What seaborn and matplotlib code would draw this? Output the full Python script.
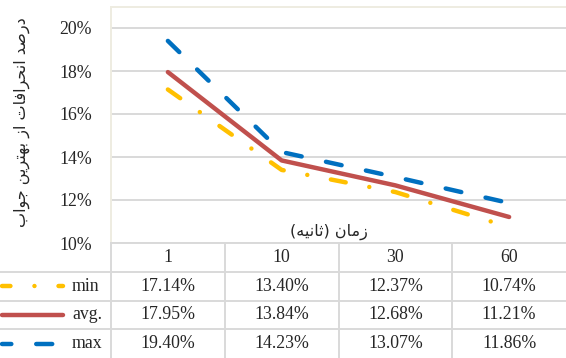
import numpy as np
import pandas as pd
import matplotlib
matplotlib.use('Agg')
import matplotlib.pyplot as plt
import seaborn as sns

# values (percent deviation from best answer)
times = ['1', '10', '30', '60']
series_names = ['min', 'avg.', 'max']
min_vals = [17.14, 13.40, 12.37, 10.74]
avg_vals = [17.95, 13.84, 12.68, 11.21]
max_vals = [19.40, 14.23, 13.07, 11.86]
y_ticks = [10, 12, 14, 16, 18, 20]

# persian titles, written in presentation forms and visual order
# (matplotlib does no arabic shaping / bidi on its own)
y_title = ('\uFE8F\uFE8D\uFEEE\uFE9F \uFEE6\uFEF3\uFEAE\uFE98\uFEEC\uFE91 '
           '\uFEAF\uFE8D \uFE95\uFE8E\uFED3\uFE8D\uFEAE\uFEA4\uFEE7\uFE8D '
           '\uFEAA\uFEBB\uFEAD\uFEA9')
x_title = '(\uFEEA\uFEF4\uFEE7\uFE8E\uFE9B) \uFEE5\uFE8E\uFEE3\uFEAF'

colors = {'min': '#FFC000', 'avg.': '#C0504D', 'max': '#0070C0'}
dash_map = {'min': (3.4, 5.4, 0.01, 5.4), 'avg.': '', 'max': (3.6, 5.6)}

sns.set_style('white')
plt.rcParams['font.family'] = ['Liberation Serif', 'DejaVu Sans']
plt.rcParams['font.size'] = 12.8

W, H = 566, 358
GRID = '#D9D9D9'
BORDER = '#EEECE1'
LW = 3.2

df = pd.concat([
    pd.DataFrame({'pos': np.arange(len(times)), 'value': vals, 'series': name})
    for name, vals in zip(series_names, [min_vals, avg_vals, max_vals])
], ignore_index=True)

fig = plt.figure(figsize=(W / 100, H / 100), dpi=100)
ax = fig.add_axes([111 / W, (H - 243) / H, (W - 111) / W, (243 - 7) / H])

sns.lineplot(data=df, x='pos', y='value', hue='series', style='series',
             palette=colors, dashes=dash_map, hue_order=series_names,
             style_order=series_names, linewidth=LW, legend=False, sort=False,
             ax=ax, solid_capstyle='round', dash_capstyle='round',
             solid_joinstyle='round', dash_joinstyle='round')

ax.set_xlim(-0.5, len(times) - 0.5)
ax.set_ylim(10, 10 + 236 / 21.5)
ax.set_yticks(y_ticks)
ax.set_yticklabels([f'{t}%' for t in y_ticks])
ax.set_xticks([])
ax.tick_params(axis='y', length=0, pad=13.5, labelsize=12.8)
ax.grid(axis='y', color=GRID, lw=1.4)
ax.set_axisbelow(True)
ax.set_xlabel('')
ax.set_ylabel(y_title, family=['DejaVu Sans'], fontsize=11.5)
ax.yaxis.set_label_coords(-0.178, 0.513)
for side in ['top', 'left']:
    ax.spines[side].set_color(BORDER)
    ax.spines[side].set_linewidth(1.4)
ax.spines['right'].set_visible(False)
ax.spines['bottom'].set_color(GRID)
ax.spines['bottom'].set_linewidth(1.4)

ax.text(1.42, 10.51, x_title, family=['DejaVu Sans'], fontsize=11.5,
        ha='center', va='center')

# data table under the plot
unit = (W - 111) / len(times)
x_left = -0.5 - 111 / unit


def px2x(px):
    return -0.5 + (px - 111) / unit


tab = fig.add_axes([0, 0, 1, 115 / H])
tab.set_xlim(x_left, len(times) - 0.5)
tab.set_ylim(4, 0)
tab.axis('off')

for r in [1, 2, 3]:
    tab.plot([x_left, len(times) - 0.5], [r, r], color=GRID, lw=1.4)
for c in np.arange(len(times)) - 0.5:
    tab.plot([c, c], [0, 4], color=GRID, lw=1.4)

for i, t in enumerate(times):
    tab.text(i, 0.5, t, ha='center', va='center')

for r, (name, vals) in enumerate(zip(series_names, [min_vals, avg_vals, max_vals]), start=1):
    for i, v in enumerate(vals):
        tab.text(i, r + 0.5, f'{v:.2f}%', ha='center', va='center')
    tab.text(px2x(72), r + 0.5, name, ha='left', va='center')
    ls = '-' if dash_map[name] == '' else (1.5, dash_map[name])
    tab.plot([px2x(2), px2x(63)], [r + 0.5, r + 0.5], color=colors[name],
             lw=LW, linestyle=ls, solid_capstyle='round',
             dash_capstyle='round')

fig.savefig('out.png', dpi=100)
